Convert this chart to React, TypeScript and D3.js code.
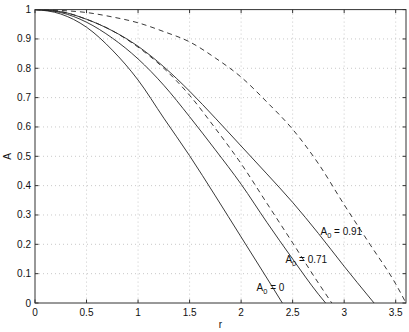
import React, { useEffect, useRef } from 'react'
import * as d3 from 'd3'

// radius samples for each curve
const rA0 = [0, 0.25, 0.5, 0.75, 1, 1.25, 1.5, 1.75, 2, 2.25, 2.4]
const valA0 = [1, 0.985, 0.94, 0.862, 0.76, 0.63, 0.502, 0.365, 0.225, 0.085, 0]

const rA71 = [0, 0.25, 0.5, 0.75, 1, 1.25, 1.5, 1.75, 2, 2.25, 2.5, 2.75, 2.82]
const valA71 = [1, 0.99, 0.957, 0.903, 0.832, 0.742, 0.635, 0.522, 0.405, 0.275, 0.15, 0.03, 0]

const rA91 = [0, 0.25, 0.5, 0.75, 1, 1.25, 1.5, 1.75, 2, 2.25, 2.5, 2.75, 3, 3.25, 3.29]
const valA91 = [1, 0.993, 0.967, 0.928, 0.875, 0.805, 0.722, 0.63, 0.535, 0.44, 0.343, 0.237, 0.125, 0.017, 0]

const rDash1 = [0, 0.25, 0.5, 0.75, 1, 1.25, 1.5, 1.75, 2, 2.25, 2.5, 2.75, 2.88]
const valDash1 = [1, 0.993, 0.967, 0.928, 0.872, 0.8, 0.708, 0.595, 0.475, 0.34, 0.205, 0.068, 0]

const rDash2 = [0, 0.25, 0.5, 0.75, 1, 1.25, 1.5, 1.75, 2, 2.25, 2.5, 2.75, 3, 3.25, 3.5, 3.6]
const valDash2 = [1, 0.997, 0.99, 0.975, 0.955, 0.925, 0.89, 0.835, 0.77, 0.685, 0.592, 0.475, 0.335, 0.2, 0.065, 0]

const xTicks = [0, 0.5, 1, 1.5, 2, 2.5, 3, 3.5]
const xTickLabels = ['0', '0.5', '1', '1.5', '2', '2.5', '3', '3.5']
const yTicks = [0, 0.1, 0.2, 0.3, 0.4, 0.5, 0.6, 0.7, 0.8, 0.9, 1]
const yTickLabels = ['0', '0.1', '0.2', '0.3', '0.4', '0.5', '0.6', '0.7', '0.8', '0.9', '1']

const curveLabels = [
	{ name: 'A', sub: '0', rest: ' = 0', r: 2.15, a: 0.04 },
	{ name: 'A', sub: '0', rest: ' = 0.71', r: 2.43, a: 0.137 },
	{ name: 'A', sub: '0', rest: ' = 0.91', r: 2.77, a: 0.233 },
]

const W = 409
const H = 332

function App() {
	const ref = useRef<SVGSVGElement>(null)

	useEffect(() => {
		const svg = d3.select(ref.current)
		svg.selectAll('*').remove()

		const left = 35
		const right = 406
		const top = 9.6
		const bottom = 303

		const x = d3.scaleLinear().domain([0, 3.6]).range([left, right])
		const y = d3.scaleLinear().domain([0, 1]).range([bottom, top])

		const font = 'Liberation Sans, Arial, sans-serif'

		// background
		svg.append('rect').attr('width', W).attr('height', H).attr('fill', '#fff')

		// grid
		const grid = svg.append('g')
		grid
			.selectAll('line.gx')
			.data(xTicks.filter((t) => t > 0))
			.enter()
			.append('line')
			.attr('x1', (d) => x(d))
			.attr('x2', (d) => x(d))
			.attr('y1', top)
			.attr('y2', bottom)
			.attr('stroke', '#bbb')
			.attr('stroke-width', 0.8)
			.attr('stroke-dasharray', '1,3')
		grid
			.selectAll('line.gy')
			.data(yTicks.filter((t) => t > 0 && t < 1))
			.enter()
			.append('line')
			.attr('x1', left)
			.attr('x2', right)
			.attr('y1', (d) => y(d))
			.attr('y2', (d) => y(d))
			.attr('stroke', '#bbb')
			.attr('stroke-width', 0.8)
			.attr('stroke-dasharray', '1,3')

		// curves
		const line = d3
			.line<[number, number]>()
			.x((d) => x(d[0]))
			.y((d) => y(d[1]))
			.curve(d3.curveMonotoneX)

		const series = [
			{ r: rA0, v: valA0, dash: null },
			{ r: rA71, v: valA71, dash: null },
			{ r: rA91, v: valA91, dash: null },
			{ r: rDash1, v: valDash1, dash: '5,4' },
			{ r: rDash2, v: valDash2, dash: '5,4' },
		]
		series.forEach((s) => {
			const pts = s.r.map((r, i) => [r, s.v[i]] as [number, number])
			svg
				.append('path')
				.attr('d', line(pts))
				.attr('fill', 'none')
				.attr('stroke', '#222')
				.attr('stroke-width', 0.9)
				.attr('stroke-dasharray', s.dash)
		})

		// box
		svg
			.append('rect')
			.attr('x', left)
			.attr('y', top)
			.attr('width', right - left)
			.attr('height', bottom - top)
			.attr('fill', 'none')
			.attr('stroke', '#333')
			.attr('stroke-width', 1)

		// ticks (inward, all sides)
		const tl = 3.5
		const ticks = svg.append('g').attr('stroke', '#333').attr('stroke-width', 1)
		xTicks.forEach((t) => {
			ticks.append('line').attr('x1', x(t)).attr('x2', x(t)).attr('y1', bottom).attr('y2', bottom - tl)
			ticks.append('line').attr('x1', x(t)).attr('x2', x(t)).attr('y1', top).attr('y2', top + tl)
		})
		yTicks.forEach((t) => {
			ticks.append('line').attr('x1', left).attr('x2', left + tl).attr('y1', y(t)).attr('y2', y(t))
			ticks.append('line').attr('x1', right).attr('x2', right - tl).attr('y1', y(t)).attr('y2', y(t))
		})

		// tick labels
		svg
			.selectAll('text.xl')
			.data(xTicks)
			.enter()
			.append('text')
			.attr('x', (d) => x(d))
			.attr('y', bottom + 13)
			.attr('text-anchor', 'middle')
			.attr('font-family', font)
			.attr('font-size', 10)
			.attr('fill', '#111')
			.text((d, i) => xTickLabels[i])

		svg
			.selectAll('text.yl')
			.data(yTicks)
			.enter()
			.append('text')
			.attr('x', left - 4)
			.attr('y', (d) => y(d) + 3.5)
			.attr('text-anchor', 'end')
			.attr('font-family', font)
			.attr('font-size', 10)
			.attr('fill', '#111')
			.text((d, i) => yTickLabels[i])

		// axis titles
		svg
			.append('text')
			.attr('x', x(1.8))
			.attr('y', 328)
			.attr('text-anchor', 'middle')
			.attr('font-family', font)
			.attr('font-size', 10)
			.attr('fill', '#111')
			.text('r')

		svg
			.append('text')
			.attr('transform', `translate(11, ${y(0.5)}) rotate(-90)`)
			.attr('text-anchor', 'middle')
			.attr('font-family', font)
			.attr('font-size', 10)
			.attr('fill', '#111')
			.text('A')

		// curve labels
		curveLabels.forEach((c) => {
			const t = svg
				.append('text')
				.attr('x', x(c.r))
				.attr('y', y(c.a))
				.attr('font-family', font)
				.attr('font-size', 10)
				.attr('fill', '#111')
			t.append('tspan').text(c.name)
			t.append('tspan').attr('dy', 3).attr('font-size', 7.5).text(c.sub)
			t.append('tspan').attr('dy', -3).text(c.rest)
		})
	}, [])

	return (
		<svg
			ref={ref}
			width={W}
			height={H}
			style={{ position: 'absolute', left: 0, top: 0, display: 'block' }}
		/>
	)
}

export default App
